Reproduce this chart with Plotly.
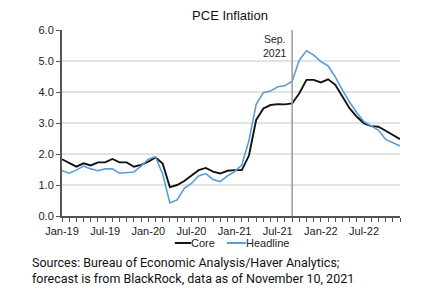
import plotly.graph_objects as go

months = list(range(48))  # Jan-19 .. Dec-22
tick_labels = ["Jan-19", "Jul-19", "Jan-20", "Jul-20", "Jan-21", "Jul-21", "Jan-22", "Jul-22"]

core = [1.83, 1.70, 1.59, 1.70, 1.63, 1.73, 1.73, 1.84, 1.73, 1.73, 1.59, 1.65,
        1.75, 1.89, 1.69, 0.93, 1.00, 1.13, 1.32, 1.48, 1.55, 1.43, 1.37, 1.46,
        1.48, 1.48, 1.95, 3.10, 3.47, 3.58, 3.61, 3.60, 3.63, 3.96, 4.39, 4.39,
        4.31, 4.41, 4.23, 3.85, 3.47, 3.20, 2.99, 2.90, 2.88, 2.75, 2.61, 2.48]
headline = [1.46, 1.38, 1.48, 1.61, 1.52, 1.46, 1.52, 1.52, 1.38, 1.41, 1.42, 1.61,
            1.83, 1.91, 1.35, 0.42, 0.52, 0.89, 1.05, 1.29, 1.37, 1.18, 1.11, 1.29,
            1.43, 1.64, 2.44, 3.60, 3.98, 4.03, 4.17, 4.20, 4.35, 5.03, 5.33, 5.19,
            4.98, 4.84, 4.49, 4.06, 3.67, 3.33, 3.04, 2.90, 2.77, 2.47, 2.37, 2.26]

sep21 = 32
target = 2.0

CORE_C = "#111111"
HEAD_C = "#5b9bd5"

fig = go.Figure()
fig.add_trace(go.Scatter(x=months, y=core, mode="lines", name="Core",
                         line=dict(color=CORE_C, width=1.9)))
fig.add_trace(go.Scatter(x=months, y=headline, mode="lines", name="Headline",
                         line=dict(color=HEAD_C, width=1.6)))

ticktext = [tick_labels[i // 6] if i % 6 == 0 else "" for i in months]

fig.update_layout(
    width=426, height=288,
    margin=dict(l=62, r=26, t=30, b=72),
    paper_bgcolor="white", plot_bgcolor="white",
    showlegend=False,
    font=dict(family="Liberation Sans, Arial, sans-serif", size=11, color="#222222"),
    title=dict(text="PCE Inflation", x=0.54, xanchor="center", y=0.948, yanchor="middle",
               font=dict(size=13, color="#111111")),
    xaxis=dict(range=[0, 47], tickmode="array", tickvals=months, ticktext=ticktext,
               showgrid=False, zeroline=False, showline=True, linecolor="#555555", linewidth=1.5,
               ticks="outside", ticklen=4, tickcolor="#555555", tickwidth=1,
               tickfont=dict(size=11, color="#222222")),
    yaxis=dict(range=[0, 6], dtick=1, tickformat=".1f",
               showgrid=True, gridcolor="#e3e3e3", gridwidth=1.5, zeroline=False,
               showline=True, linecolor="#555555", linewidth=2,
               ticks="outside", ticklen=4, tickcolor="#555555",
               tickfont=dict(size=11, color="#222222")),
)

# target dashed line
fig.add_shape(type="line", xref="paper", yref="y", x0=0, x1=1, y0=target, y1=target,
              line=dict(color="#8a8a8a", width=1.5, dash="3px,2px"), layer="below")
# Sep 2021 vertical line
fig.add_shape(type="line", xref="x", yref="paper", x0=sep21, x1=sep21, y0=0, y1=1,
              line=dict(color="#999999", width=1.5))
fig.add_annotation(x=sep21, y=1.0, xref="x", yref="paper", text="Sep.<br>2021",
                   showarrow=False, xanchor="right", yanchor="top", xshift=-3, yshift=-1,
                   align="center", font=dict(size=10.5, color="#222222"))

# custom legend
ly = -0.145
fig.add_shape(type="line", xref="paper", yref="paper", x0=0.334, x1=0.382, y0=ly, y1=ly,
              line=dict(color=CORE_C, width=2))
fig.add_annotation(x=0.382, y=ly, xref="paper", yref="paper", text="Core", showarrow=False,
                   xanchor="left", yanchor="middle", xshift=-2, font=dict(size=11, color="#222222"))
fig.add_shape(type="line", xref="paper", yref="paper", x0=0.488, x1=0.544, y0=ly, y1=ly,
              line=dict(color=HEAD_C, width=2))
fig.add_annotation(x=0.544, y=ly, xref="paper", yref="paper", text="Headline", showarrow=False,
                   xanchor="left", yanchor="middle", xshift=-2, font=dict(size=11, color="#222222"))

# source note
fig.add_annotation(x=-0.095, y=-0.197, xref="paper", yref="paper",
                   text="Sources: Bureau of Economic Analysis/Haver Analytics;<br>forecast is from BlackRock, data as of November 10, 2021",
                   showarrow=False, xanchor="left", yanchor="top", align="left",
                   font=dict(family="Roboto, sans-serif", size=12.5, color="#111111"))

fig.write_html("out.html")
